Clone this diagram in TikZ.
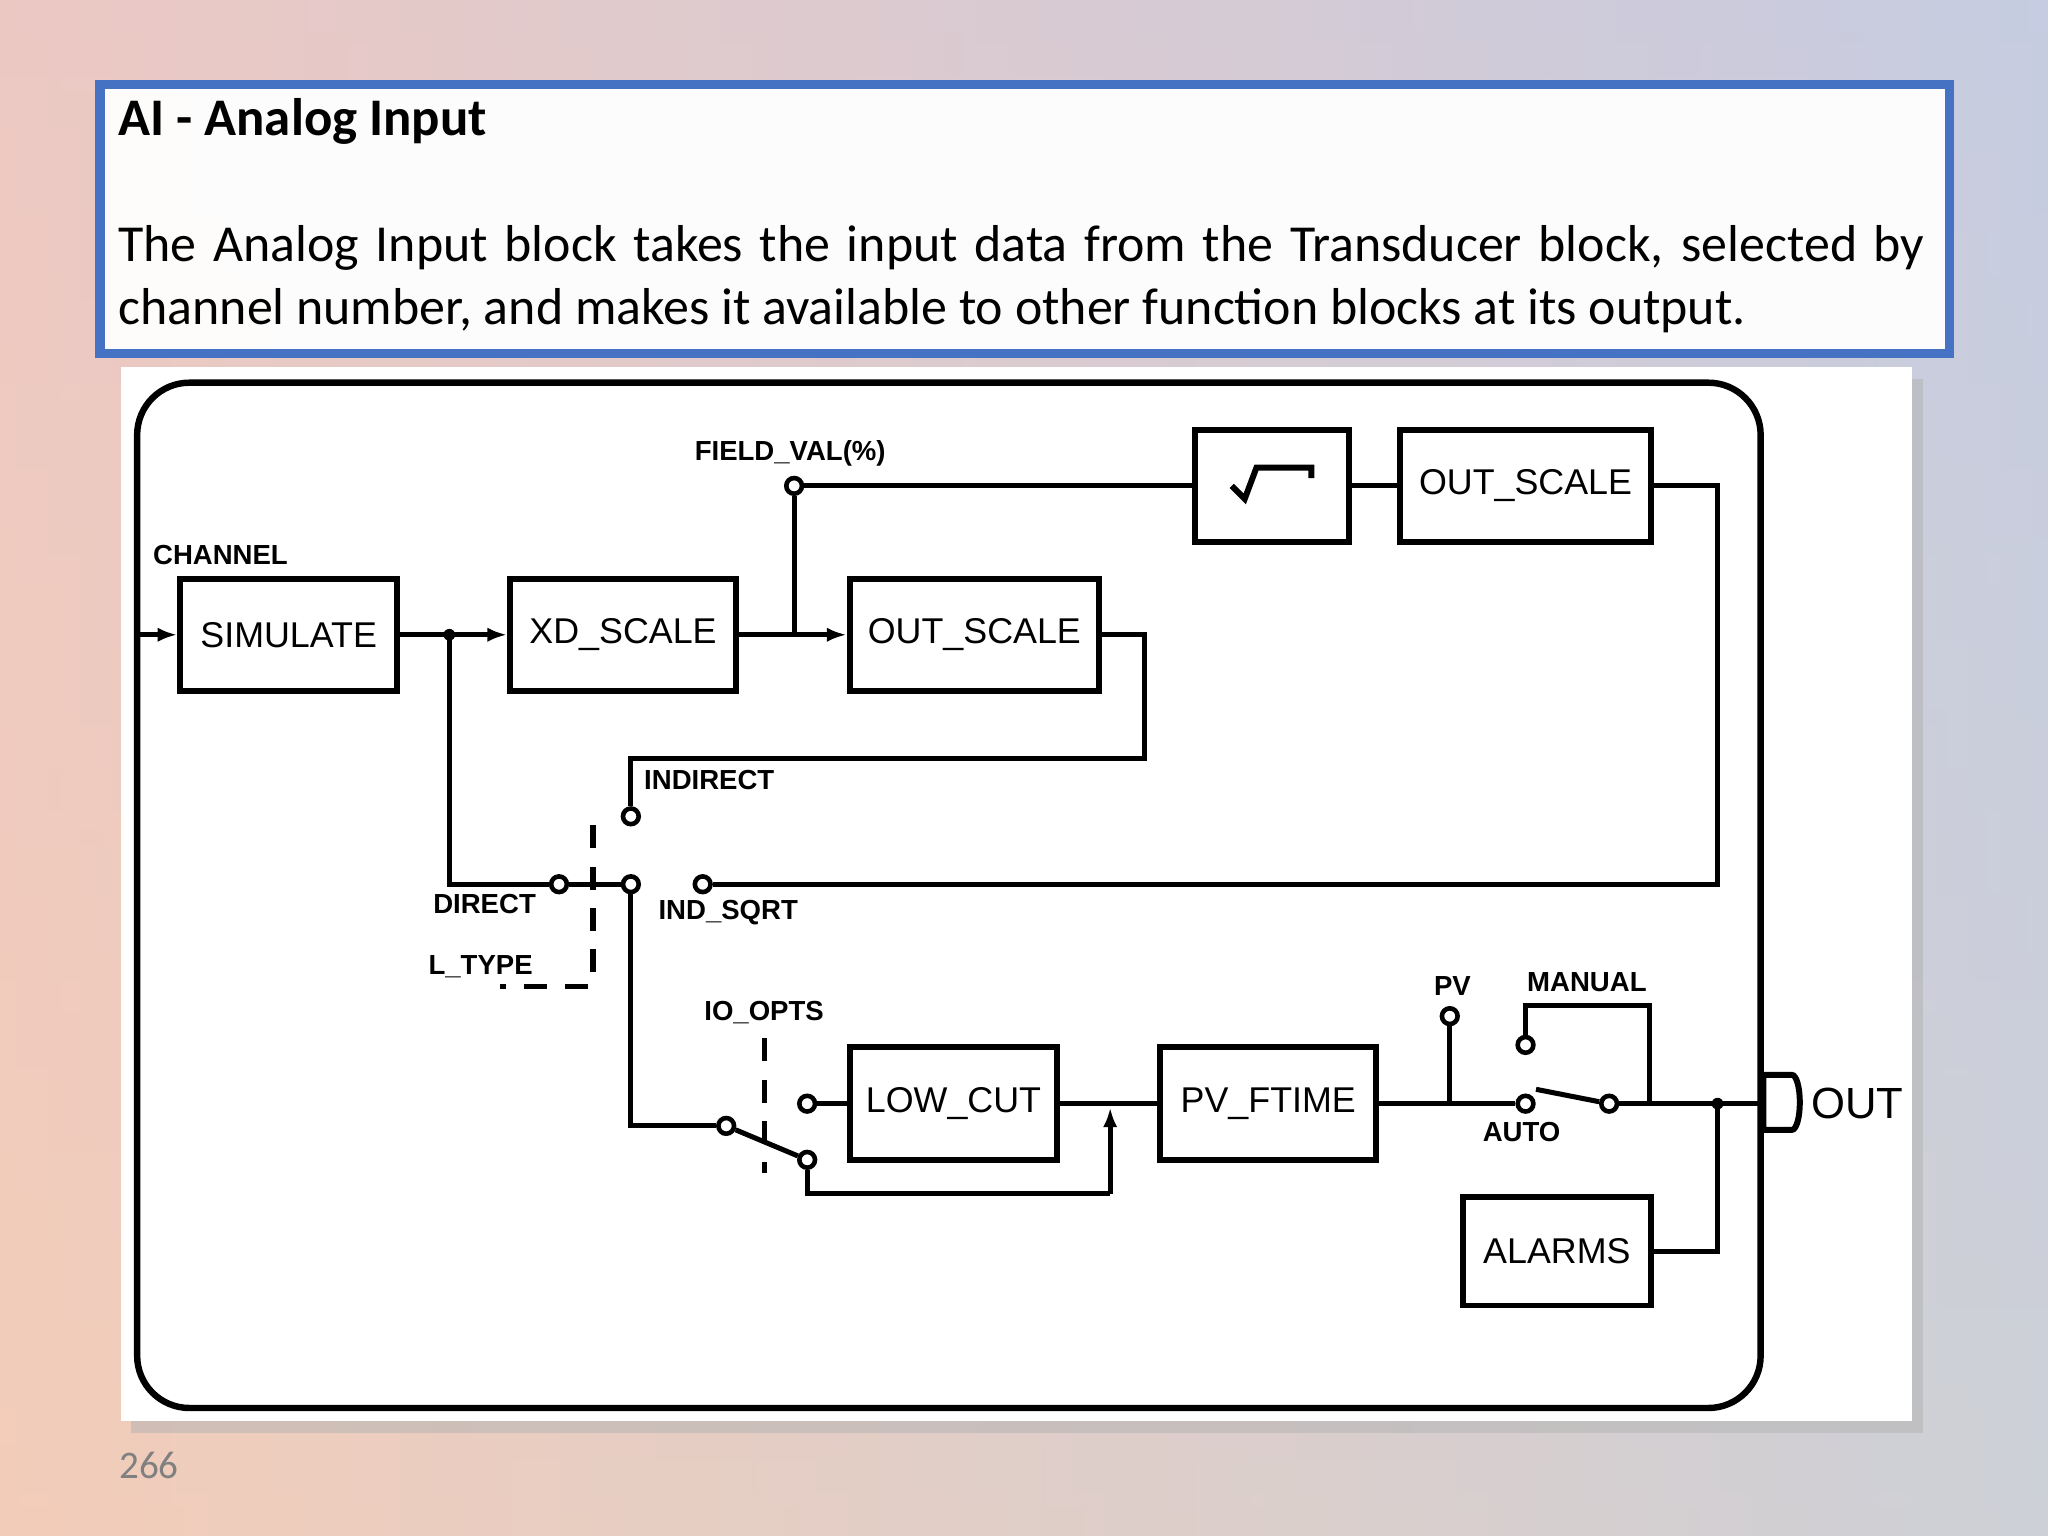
\documentclass[tikz,border=0pt]{standalone}
\usepackage{fontspec}
\setmainfont{Carlito}
\newfontfamily\lab{Liberation Sans}
\usetikzlibrary{arrows.meta,calc}
\begin{document}
\begin{tikzpicture}[x=0.01cm,y=-0.01cm,
  blk/.style={draw,line width=1.3pt,inner sep=0pt},
  w/.style={line width=1.1pt},
  pin/.style={draw,line width=1pt,fill=white,circle,inner sep=0pt,minimum size=0.12cm},
  lbl/.style={font=\lab\bfseries\fontsize{6}{7}\selectfont,inner sep=1pt},
  bl/.style={font=\lab\fontsize{7.8}{9}\selectfont},
  arr/.style={w,-{Latex[length=0.15cm,width=0.11cm]}},
  dsh/.style={line width=1.1pt,dash pattern=on 5pt off 4pt}]
\useasboundingbox (0,0) rectangle (1568,1176);
\shade[left color={rgb,255:red,246;green,208;blue,182},right color={rgb,255:red,182;green,214;blue,232}] (0,0) rectangle (1568,1176);
\shade[top color={rgb,255:red,222;green,190;blue,215},bottom color={rgb,255:red,240;green,200;blue,190},opacity=0.4] (0,0) rectangle (1568,1176);
% title box
\node[draw={rgb,255:red,70;green,114;blue,196},line width=2pt,fill=white,fill opacity=0.95,text opacity=1,minimum width=14.15cm,minimum height=2.06cm,anchor=north west] (tb) at (73,61) {};
\node[anchor=west,inner sep=0pt,font=\bfseries\fontsize{11.5}{14}\selectfont] (tt) at (90,93) {AI - Analog Input};
\node[anchor=north west,text width=13.82cm,align=justify,inner sep=0pt,font=\fontsize{11.3}{13.6}\selectfont] (tx) at (90,172) {\hyphenpenalty 10000 The Analog Input block takes the input data from the Transducer block, selected by channel number, and makes it available to other function blocks at its output.};
% diagram image
\fill[gray!60,opacity=0.5] (100,290) rectangle (1472,1097);
\node[fill=white,minimum width=13.7cm,minimum height=8.07cm,anchor=north west,inner sep=0pt] (img) at (92,280) {};
\draw[line width=1.4pt,rounded corners=0.4cm] (105,293) rectangle (1348,1078);
% blocks
\node[blk,minimum width=1.66cm,minimum height=0.86cm,bl] (sim) at (221,486) {SIMULATE};
\node[blk,minimum width=1.73cm,minimum height=0.86cm,bl] (xd) at (477,486) {XD\_SCALE};
\node[blk,minimum width=1.91cm,minimum height=0.86cm,bl] (os1) at (746,486) {OUT\_SCALE};
\node[blk,minimum width=1.18cm,minimum height=0.86cm] (sq) at (974,372) {};
\draw[line width=1.3pt] (943,372) -- (953,382) -- (962,358) -- (1004,358) -- (1004,366);
\node[blk,minimum width=1.92cm,minimum height=0.86cm,bl] (os2) at (1168,372) {OUT\_SCALE};
\node[blk,minimum width=1.58cm,minimum height=0.86cm,bl] (lc) at (730,845) {LOW\_CUT};
\node[blk,minimum width=1.65cm,minimum height=0.86cm,bl] (pf) at (971,845) {PV\_FTIME};
\node[blk,minimum width=1.44cm,minimum height=0.83cm,bl] (al) at (1192,958) {ALARMS};
% coordinates
\coordinate (cin) at (107,486);
\coordinate (j1) at (344,486);
\coordinate (j2) at (608,486);
\node[pin] (fv) at (608,372) {};
\node[pin] (ind) at (483,625) {};
\node[pin] (dir) at (428,677) {};
\node[pin] (piv) at (483,677) {};
\node[pin] (isq) at (538,677) {};
\node[pin] (p2) at (556,862) {};
\node[pin] (c1) at (618,845) {};
\node[pin] (c2) at (618,888) {};
\node[pin] (pv) at (1110,778) {};
\node[pin] (man) at (1168,800) {};
\node[pin] (aut) at (1168,845) {};
\node[pin] (sw) at (1232,845) {};
\coordinate (j3) at (1315,845);
% wires
\draw[arr] (cin) -- (sim.west);
\draw[w] (sim.east) -- (j1);
\draw[arr] (j1) -- (xd.west);
\fill (j1) circle (0.045cm);
\draw[w] (xd.east) -- (j2);
\draw[arr] (j2) -- (os1.west);
\draw[w] (j2) -- (fv);
\draw[w] (fv) -- (sq.west);
\draw[w] (sq.east) -- (os2.west);
\draw[w] (os2.east) -- (1315,372) -- (1315,677) -- (isq);
\draw[w] (os1.east) -- (876,486) -- (876,581) -- (483,581) -- (ind);
\draw[w] (j1) -- (344,677) -- (dir);
\draw[w] (dir) -- (piv);
\draw[w] (piv) -- (483,862) -- (p2);
\draw[w] (p2) -- (c2);
\draw[dsh] (454,632) -- (454,755) -- (383,755);
\draw[dsh] (585,795) -- (585,898);
\draw[w] (c1) -- (lc.west);
\draw[w] (lc.east) -- (pf.west);
\draw[w] (c2) -- (618,914) -- (850,914);
\draw[arr] (850,914) -- (850,848);
\draw[w] (pf.east) -- (aut);
\draw[w] (1110,845) -- (pv);
\draw[w] (man) -- (1168,770) -- (1263,770) -- (1263,845);
\draw[w] (1176,834) -- (sw);
\draw[w] (sw) -- (1350,845);
\fill (j3) circle (0.045cm);
\draw[w] (j3) -- (1315,958) -- (al.east);
\draw[line width=1.3pt] (1350,823) -- (1372,823) arc (90:-90:0.06cm and 0.21cm) -- (1350,865) -- cycle;
% labels
\node[lbl,anchor=west] (lch) at (113,425) {CHANNEL};
\node[lbl] (lfv) at (605,347) {FIELD\_VAL(\%)};
\node[lbl,anchor=west] (lind) at (489,597) {INDIRECT};
\node[lbl] (ldir) at (371,692) {DIRECT};
\node[lbl] (llt) at (368,740) {L\_TYPE};
\node[lbl,anchor=west] (lis) at (500,699) {IND\_SQRT};
\node[lbl] (lio) at (585,775) {IO\_OPTS};
\node[lbl] (lpv) at (1112,755) {PV};
\node[lbl] (lma) at (1215,752) {MANUAL};
\node[lbl] (lau) at (1165,867) {AUTO};
\node[font=\lab\fontsize{9.5}{10}\selectfont] (lout) at (1422,845) {OUT};
\node[text=gray,font=\fontsize{8.5}{10}\selectfont] (pg) at (114,1122) {266};
\end{tikzpicture}
\end{document}
